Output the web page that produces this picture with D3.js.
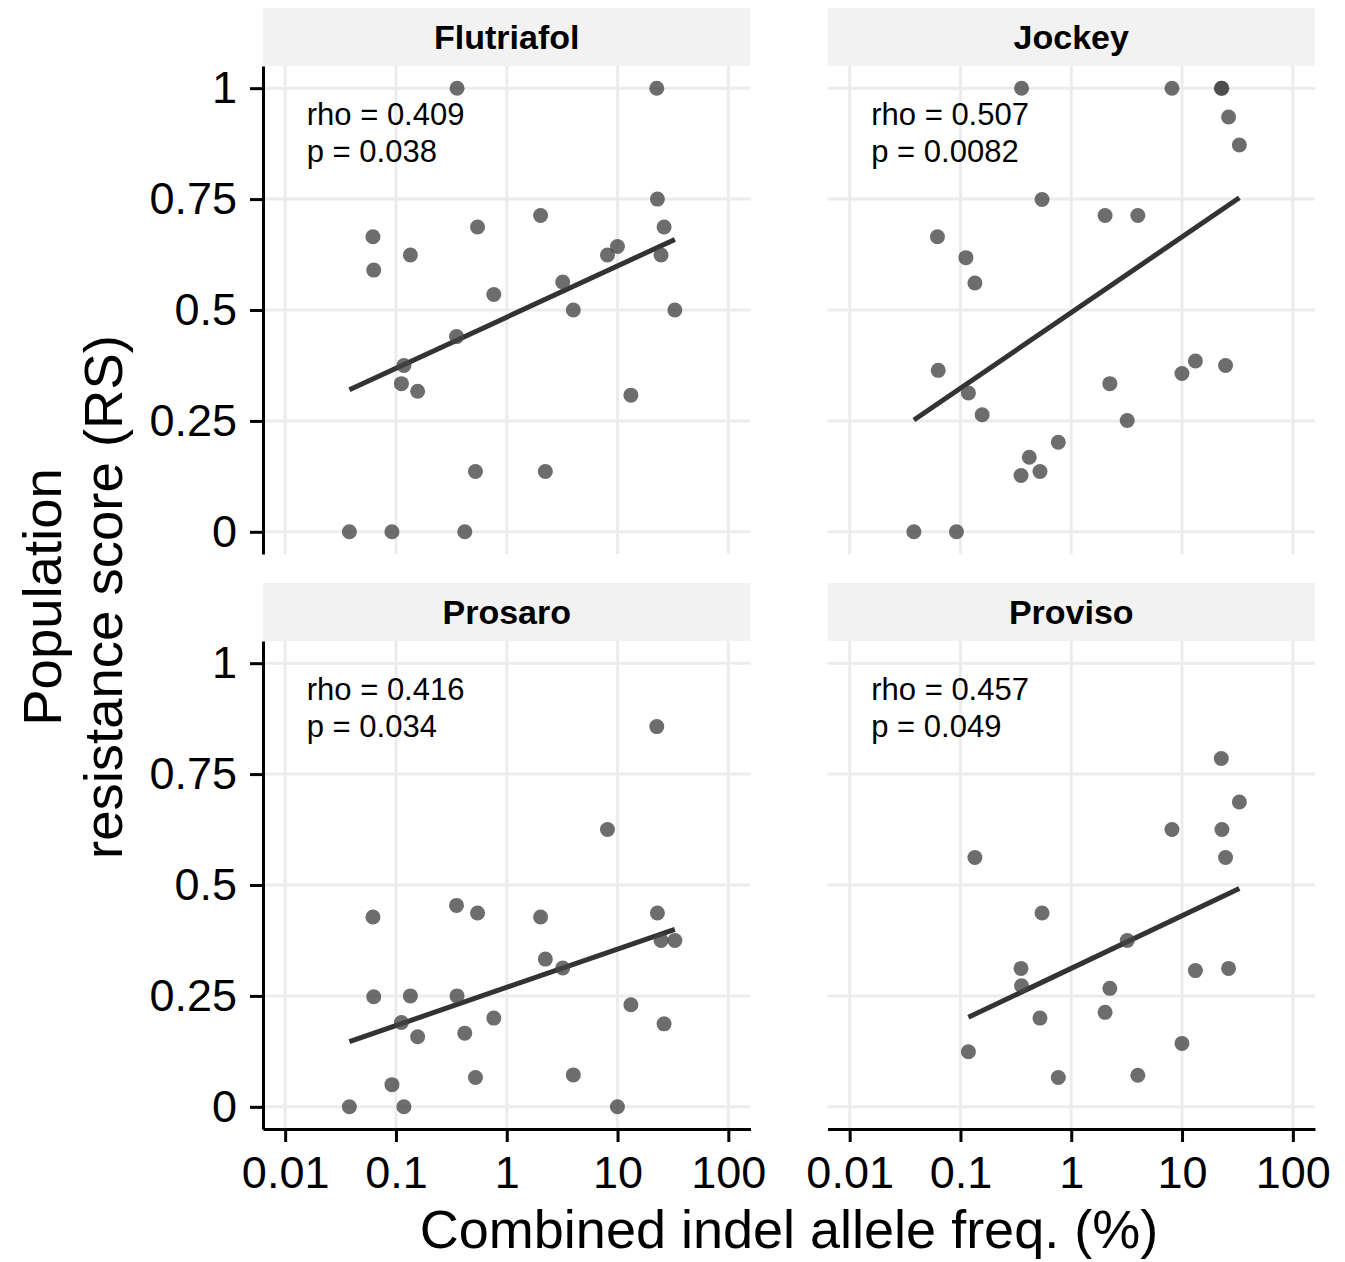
<!DOCTYPE html>
<html>
<head>
<meta charset="utf-8">
<script src="https://cdn.jsdelivr.net/npm/d3@7"></script>
<style>
  body { margin: 0; background: #fff; }
  text { font-family: 'Liberation Sans', Arial, Helvetica, sans-serif; }
</style>
</head>
<body>
<svg width="1345" height="1262"></svg>
<script>
// combined indel allele frequency (%) per population, shared by all panels
const freqPct = [0.038, 0.062, 0.063, 0.092, 0.112, 0.118, 0.135, 0.157, 0.352, 0.356,
  0.418, 0.522, 0.545, 0.764, 2.02, 2.23, 3.20, 3.99, 8.11, 9.98,
  13.2, 22.6, 22.9, 24.7, 26.3, 32.9];

const fungicides = ['Flutriafol', 'Jockey', 'Prosaro', 'Proviso'];

// resistance scores, same order as freqPct (null = not tested)
const rsFlutriafol = [0, 0.665, 0.59, 0, 0.334, 0.375, 0.624, 0.317, 0.44, 1.0,
  0, 0.136, 0.687, 0.535, 0.713, 0.136, 0.563, 0.5, 0.624, 0.643,
  0.308, 1.0, 0.75, 0.624, 0.687, 0.5];
const rsJockey = [0, 0.665, 0.364, 0, 0.618, 0.313, 0.561, 0.264, 0.127, 1.0,
  0.168, 0.136, 0.749, 0.202, 0.713, 0.334, 0.251, 0.713, 1.0, 0.357,
  0.385, 1.0, 1.0, 0.375, 0.935, 0.872];
const rsProsaro = [0, 0.428, 0.248, 0.05, 0.19, 0, 0.25, 0.158, 0.454, 0.25,
  0.166, 0.066, 0.437, 0.2, 0.428, 0.333, 0.313, 0.072, 0.625, 0,
  0.23, 0.857, 0.437, 0.375, 0.187, 0.375];
const rsProviso = [null, null, null, null, null, 0.124, 0.562, null, 0.312, 0.273,
  null, 0.2, 0.437, 0.066, 0.213, 0.267, 0.375, 0.071, 0.625, 0.143,
  0.307, 0.785, 0.625, 0.562, 0.312, 0.687];

const rhoLabels = ['rho = 0.409', 'rho = 0.507', 'rho = 0.416', 'rho = 0.457'];
const pLabels = ['p = 0.038', 'p = 0.0082', 'p = 0.034', 'p = 0.049'];

// fitted line (lm on log10 x), RS at lowest and highest frequency
const fitStart = [0.320, 0.252, 0.147, 0.202];
const fitEnd = [0.659, 0.753, 0.400, 0.492];

const xTicks = [0.01, 0.1, 1, 10, 100];
const xTickLabels = ['0.01', '0.1', '1', '10', '100'];
const yTicks = [0, 0.25, 0.5, 0.75, 1];
const yTickLabels = ['0', '0.25', '0.5', '0.75', '1'];

const svg = d3.select('svg');

const render = () => {
    const scores = [rsFlutriafol, rsJockey, rsProsaro, rsProviso];
    const panelW = 487.5;
    const panelH = 488;
    const stripH = 58;
    const colX = [263, 827.5];
    const rowY = [66, 641];

    const xScale = d3.scaleLog()
        .domain([Math.pow(10, -2.2), Math.pow(10, 2.2)])
        .range([0, panelW]);

    const yScale = d3.scaleLinear()
        .domain([-0.05, 1.05])
        .range([panelH, 0]);

    fungicides.forEach((name, i) => {
        const col = i % 2;
        const row = Math.floor(i / 2);
        const g = svg.append('g')
            .attr('transform', `translate(${colX[col]},${rowY[row]})`);

        // strip
        g.append('rect')
            .attr('x', 0).attr('y', -stripH)
            .attr('width', panelW).attr('height', stripH)
            .attr('fill', '#f2f2f2');
        g.append('text')
            .attr('x', panelW / 2)
            .attr('y', -stripH + 41)
            .attr('text-anchor', 'middle')
            .attr('font-size', 34)
            .attr('font-weight', 'bold')
            .text(name);

        // grid
        g.selectAll('.vgrid').data(xTicks)
            .enter().append('line')
                .attr('x1', d => xScale(d)).attr('x2', d => xScale(d))
                .attr('y1', 0).attr('y2', panelH)
                .attr('stroke', '#ececec')
                .attr('stroke-width', 3);
        g.selectAll('.hgrid').data(yTicks)
            .enter().append('line')
                .attr('x1', 0).attr('x2', panelW)
                .attr('y1', d => yScale(d)).attr('y2', d => yScale(d))
                .attr('stroke', '#ececec')
                .attr('stroke-width', 3);

        const data = freqPct
            .map((f, j) => ({ f, rs: scores[i][j] }))
            .filter(d => d.rs !== null);

        // fitted line
        const xExt = d3.extent(data, d => d.f);
        g.append('line')
            .attr('x1', xScale(xExt[0]))
            .attr('y1', yScale(fitStart[i]))
            .attr('x2', xScale(xExt[1]))
            .attr('y2', yScale(fitEnd[i]))
            .attr('stroke', '#333')
            .attr('stroke-width', 5);

        g.selectAll('circle').data(data)
            .enter().append('circle')
                .attr('cx', d => xScale(d.f))
                .attr('cy', d => yScale(d.rs))
                .attr('r', 7.5)
                .attr('fill', '#444')
                .attr('fill-opacity', 0.78);

        // annotation
        const annX = xScale(Math.pow(10, -1.805));
        g.append('text')
            .attr('x', annX).attr('y', yScale(0.917))
            .attr('font-size', 31)
            .text(rhoLabels[i]);
        g.append('text')
            .attr('x', annX).attr('y', yScale(0.834))
            .attr('font-size', 31)
            .text(pLabels[i]);

        // axes
        if (col === 0) {
            const yAxis = d3.axisLeft(yScale)
                .tickValues(yTicks)
                .tickFormat((d, k) => yTickLabels[k])
                .tickSize(13)
                .tickPadding(13)
                .tickSizeOuter(0);
            const yAxisG = g.append('g').call(yAxis);
            yAxisG.selectAll('text').attr('font-size', 45).attr('fill', '#000');
            yAxisG.selectAll('line').attr('stroke', '#000').attr('stroke-width', 3);
            yAxisG.select('.domain').attr('stroke', '#000').attr('stroke-width', 3);
        }
        if (row === 1) {
            const xAxis = d3.axisBottom(xScale)
                .tickValues(xTicks)
                .tickFormat((d, k) => xTickLabels[k])
                .tickSize(13)
                .tickPadding(14)
                .tickSizeOuter(0);
            const xAxisG = g.append('g').call(xAxis)
                .attr('transform', `translate(0,${panelH})`);
            xAxisG.selectAll('text').attr('font-size', 45).attr('fill', '#000');
            xAxisG.selectAll('line').attr('stroke', '#000').attr('stroke-width', 3);
            xAxisG.select('.domain').attr('stroke', '#000').attr('stroke-width', 3);
        }
    });

    svg.selectAll('.tick text').style('font-family', "'Liberation Sans', Arial, sans-serif");

    // axis titles
    svg.append('text')
        .attr('x', (colX[0] + colX[1] + panelW) / 2)
        .attr('y', 1248)
        .attr('text-anchor', 'middle')
        .attr('font-size', 54)
        .text('Combined indel allele freq. (%)');

    const yTitle = svg.append('text')
        .attr('transform', 'translate(0,597) rotate(-90)')
        .attr('text-anchor', 'middle')
        .attr('font-size', 54.5);
    yTitle.append('tspan').attr('x', 0).attr('y', 61).text('Population');
    yTitle.append('tspan').attr('x', 0).attr('y', 122).text('resistance score (RS)');
};

render();
</script>
</body>
</html>
